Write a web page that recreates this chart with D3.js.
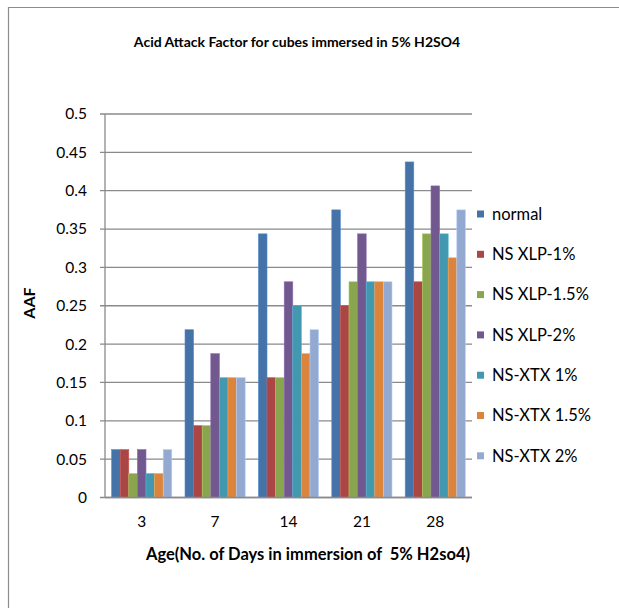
<!DOCTYPE html>
<html><head><meta charset="utf-8">
<script src="https://cdn.jsdelivr.net/npm/d3@7"></script>
<style>body{margin:0;background:#fff;}text{font-family:Lato,"Open Sans",sans-serif;fill:#000;}</style>
</head><body>
<svg id="c" width="619" height="608"></svg>
<script>
const categories = ["3","7","14","21","28"];
const seriesNames = ["normal","NS XLP-1%","NS XLP-1.5%","NS XLP-2%","NS-XTX 1%","NS-XTX 1.5%","NS-XTX 2%"];
const normal    = [0.0625, 0.21875, 0.34375, 0.375, 0.4375];
const xlp1      = [0.0625, 0.09375, 0.15625, 0.25, 0.28125];
const xlp15     = [0.03125, 0.09375, 0.15625, 0.28125, 0.34375];
const xlp2      = [0.0625, 0.1875, 0.28125, 0.34375, 0.40625];
const xtx1      = [0.03125, 0.15625, 0.25, 0.28125, 0.34375];
const xtx15     = [0.03125, 0.15625, 0.1875, 0.28125, 0.3125];
const xtx2      = [0.0625, 0.15625, 0.21875, 0.28125, 0.375];
const yTicks = [0,0.05,0.1,0.15,0.2,0.25,0.3,0.35,0.4,0.45,0.5];
const colors = ["#4572A7","#AA4643","#89A54E","#71588F","#4198AF","#DB843D","#93A9CF"];
const allSeries = [normal,xlp1,xlp15,xlp2,xtx1,xtx15,xtx2];

const svg = d3.select("#c");
svg.append("line").attr("x1",8).attr("x2",619).attr("y1",7.5).attr("y2",7.5).attr("stroke","#8c8c8c").attr("stroke-width",1.2);
svg.append("line").attr("x1",8.5).attr("x2",8.5).attr("y1",7).attr("y2",608).attr("stroke","#8c8c8c").attr("stroke-width",1.2);

const L=105, R=472, T=114, B=497.5;
const x0 = d3.scaleBand().domain(categories).range([L,R]).paddingInner(0.18).paddingOuter(0.09);
const x1 = d3.scaleBand().domain(d3.range(seriesNames.length)).range([0,x0.bandwidth()]);
const y = d3.scaleLinear().domain([0,0.5]).range([B,T]);

svg.append("g").selectAll("line").data(yTicks).join("line")
  .attr("x1",L-5).attr("x2",R).attr("y1",d=>y(d)).attr("y2",d=>y(d))
  .attr("stroke","#8a8a8a").attr("stroke-width",1.3);
svg.append("line").attr("x1",L).attr("x2",L).attr("y1",T).attr("y2",B).attr("stroke","#8a8a8a").attr("stroke-width",1.3);
svg.append("g").selectAll("text").data(yTicks).join("text")
  .attr("x",L-18).attr("y",d=>y(d)).attr("dy","0.35em").attr("text-anchor","end")
  .style("font-size","15.5px").text(d=>d3.format("~g")(d));

const g = svg.append("g");
allSeries.forEach((vals,si)=>{
  g.append("g").selectAll("rect").data(vals).join("rect")
    .attr("x",(d,i)=>x0(categories[i])+x1(si))
    .attr("width",x1.bandwidth())
    .attr("y",d=>y(d)).attr("height",d=>B-y(d))
    .attr("fill",colors[si])
    .attr("stroke",d3.color(colors[si]).brighter(0.6)).attr("stroke-width",0.6);
});
svg.append("line").attr("x1",L).attr("x2",R).attr("y1",B).attr("y2",B).attr("stroke","#8a8a8a").attr("stroke-width",1.3);
svg.append("g").selectAll("text").data(categories).join("text")
  .attr("x",d=>x0(d)+x0.bandwidth()/2).attr("y",522).attr("dy","0.35em").attr("text-anchor","middle")
  .style("font-size","15.5px").text(d=>d);

svg.append("text").attr("x",297).attr("y",42).attr("dy","0.35em").attr("text-anchor","middle")
  .style("font-size","14px").style("font-weight","bold").text("Acid Attack Factor for cubes immersed in 5% H2SO4");
svg.append("text").attr("x",308).attr("y",554).attr("dy","0.35em").attr("text-anchor","middle").attr("xml:space","preserve")
  .style("font-size","16.5px").style("font-weight","bold").text("Age(No. of Days in immersion of  5% H2so4)");
svg.append("text").attr("transform","translate(29,303) rotate(-90)").attr("dy","0.35em").attr("text-anchor","middle")
  .style("font-size","16px").style("font-weight","bold").text("AAF");

const lg = svg.append("g");
seriesNames.forEach((n,i)=>{
  const cy = 214 + i*40.3;
  lg.append("rect").attr("x",477).attr("y",cy-3.5).attr("width",7).attr("height",7).attr("fill",colors[i]);
  lg.append("text").attr("x",492).attr("y",cy).attr("dy","0.35em").style("font-size","16.5px").text(n);
});
</script>
</body></html>
